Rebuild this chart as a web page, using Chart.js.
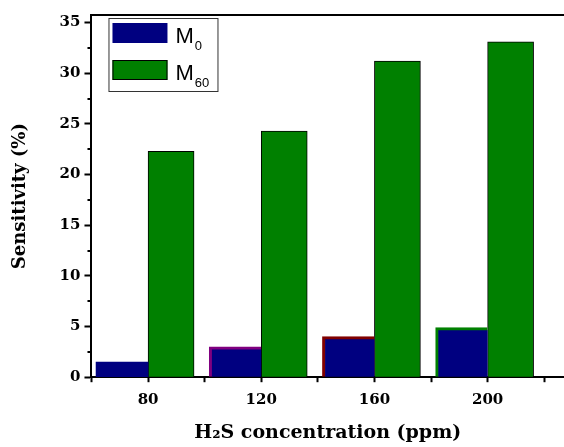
<!DOCTYPE html>
<html>
<head>
<meta charset="utf-8">
<script src="https://cdn.jsdelivr.net/npm/chart.js@4.4.0/dist/chart.umd.min.js"></script>
<style>
html,body{margin:0;padding:0;background:#fff;}
#wrap{width:564px;height:447px;}
</style>
</head>
<body>
<div id="wrap"><canvas id="sensChart"></canvas></div>
<script>
// H2S concentration (ppm) vs sensitivity (%)
const concentrations = [80, 120, 160, 200];
const m0Values = [1.5, 3.0, 4.0, 4.9];
const m60Values = [22.3, 24.3, 31.2, 33.1];
const seriesNames = ["M0", "M60"];
const yTickValues = [0, 5, 10, 15, 20, 25, 30, 35];
const yMinorTicks = [2.5, 7.5, 12.5, 17.5, 22.5, 27.5, 32.5];
const xTickValues = [60, 80, 100, 120, 140, 160, 180, 200, 220];

Chart.defaults.font.family = "'DejaVu Serif', serif";
Chart.defaults.color = "#000";

// legend box drawn inside the plot, with subscripted names
const boxLegend = {
  id: "boxLegend",
  afterDraw(chart){
    const {ctx, chartArea} = chart;
    const x0 = chartArea.left + 17, y0 = chartArea.top + 3;
    const w = 109, h = 73;
    ctx.save();
    ctx.fillStyle = "#fff";
    ctx.fillRect(x0, y0, w, h);
    ctx.strokeStyle = "#333";
    ctx.lineWidth = 1;
    ctx.strokeRect(x0 + 0.5, y0 + 0.5, w, h);
    chart.data.datasets.forEach((ds, i) => {
      const sy = y0 + 5 + i*37;
      ctx.fillStyle = ds.backgroundColor;
      ctx.fillRect(x0 + 4, sy, 55, 20);
      if(i===1){
        ctx.strokeStyle = "#000";
        ctx.strokeRect(x0 + 4.5, sy + 0.5, 54, 19);
      }
      const name = seriesNames[i];
      ctx.fillStyle = "#000";
      ctx.textBaseline = "alphabetic";
      ctx.font = "22px 'Liberation Sans'";
      ctx.fillText(name[0], x0 + 67, sy + 20);
      const mw = ctx.measureText(name[0]).width;
      ctx.font = "13px 'Liberation Sans'";
      ctx.fillText(name.slice(1), x0 + 68 + mw, sy + 27);
    });
    ctx.restore();
  }
};

// short minor ticks on the y axis
const minorTicks = {
  id: "minorTicks",
  afterDraw(chart){
    const y = chart.scales.y, ctx = chart.ctx;
    ctx.save();
    ctx.strokeStyle = "#000";
    ctx.lineWidth = 2;
    yMinorTicks.forEach(v => {
      const py = Math.round(y.getPixelForValue(v));
      ctx.beginPath();
      ctx.moveTo(y.right - 4, py);
      ctx.lineTo(y.right, py);
      ctx.stroke();
    });
    ctx.restore();
  }
};

const ctx = document.getElementById("sensChart").getContext("2d");
new Chart(ctx, {
  type: "bar",
  data: {
    datasets: [
      {
        label: seriesNames[0],
        data: concentrations.map((c, i) => ({x: c, y: m0Values[i]})),
        backgroundColor: "#000080",
        borderColor: ["#000080", "#800080", "#800000", "#008000"],
        borderWidth: c => c.dataIndex===0 ? 0 : {top: 3, left: 3, right: 0, bottom: 0},
        barThickness: 52
      },
      {
        label: seriesNames[1],
        data: concentrations.map((c, i) => ({x: c, y: m60Values[i]})),
        backgroundColor: "#008000",
        borderColor: "#000",
        borderWidth: 1,
        barThickness: 46
      }
    ]
  },
  options: {
    responsive: true,
    maintainAspectRatio: false,
    animation: false,
    layout: { padding: { left: 0, top: 15, right: 0, bottom: 0 } },
    plugins: { legend: { display: false }, tooltip: { enabled: false } },
    scales: {
      x: {
        type: "linear", min: 60, max: 227, offset: false,
        afterBuildTicks: s => { s.ticks = xTickValues.map(v => ({value: v})); },
        grid: { offset: false, drawOnChartArea: false, tickLength: 5, tickWidth: 2, tickColor: "#000" },
        border: { color: "#000", width: 2 },
        ticks: {
          callback: v => concentrations.includes(v) ? v : "",
          padding: 9, maxRotation: 0, autoSkip: false,
          font: { size: 15, weight: "bold" }
        },
        title: {
          display: true, text: "H₂S concentration (ppm)",
          font: { size: 19, weight: "bold" },
          padding: { top: 3, bottom: 3 }
        }
      },
      x2: {
        type: "linear", position: "top", min: 60, max: 227,
        grid: { drawOnChartArea: false, drawTicks: false },
        ticks: { display: false },
        border: { color: "#000", width: 2 }
      },
      y: {
        min: 0, max: 35.75,
        afterBuildTicks: s => { s.ticks = yTickValues.map(v => ({value: v})); },
        grid: { drawOnChartArea: false, tickLength: 7, tickWidth: 2, tickColor: "#000" },
        border: { color: "#000", width: 2 },
        ticks: { padding: 4, font: { size: 15, weight: "bold" } },
        title: {
          display: true, text: "Sensitivity (%)",
          font: { size: 18, weight: "bold" },
          padding: { top: 10, bottom: 24 }
        }
      }
    }
  },
  plugins: [boxLegend, minorTicks]
});
</script>
</body>
</html>
